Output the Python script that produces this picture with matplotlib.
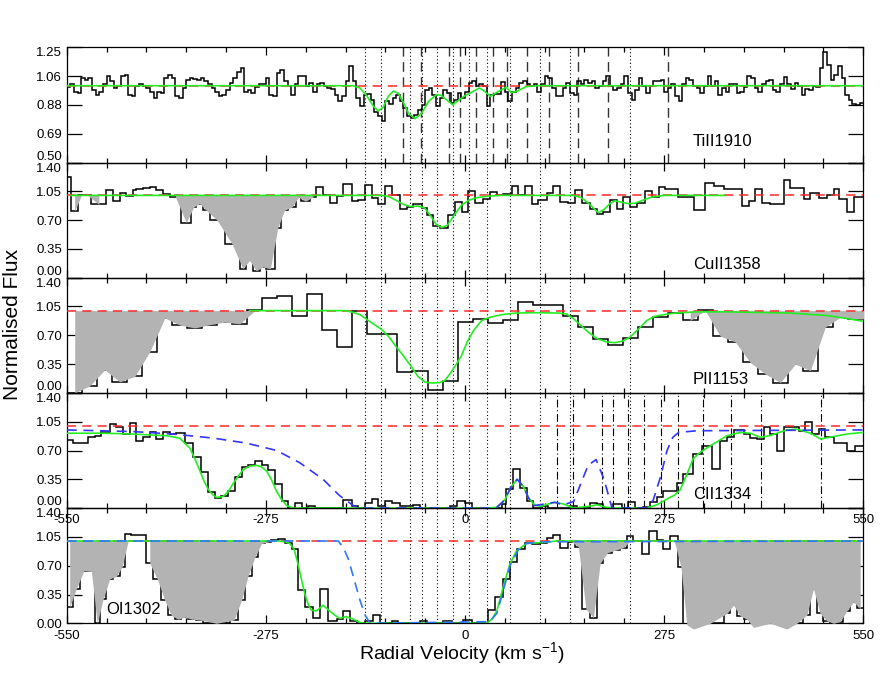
import numpy as np
import matplotlib
matplotlib.use('Agg')
import matplotlib.pyplot as plt
from matplotlib.ticker import FixedLocator, MultipleLocator

plt.rcParams['font.family'] = ['Liberation Sans', 'DejaVu Sans']
plt.rcParams['mathtext.fontset'] = 'custom'
plt.rcParams['mathtext.rm'] = 'Liberation Sans'
plt.rcParams['mathtext.it'] = 'Liberation Sans:italic'
plt.rcParams['mathtext.bf'] = 'Liberation Sans:bold'

# ------------------------------------------------------------------ data
ions = ['TiII1910', 'CuII1358', 'PII1153', 'CII1334', 'OI1302']
xticks = [-550, -275, 0, 275, 550]
xtick_labels = ['-550', '-275', '0', '275', '550']
p1_yticks = [0.50, 0.6875, 0.875, 1.0625, 1.25]
p1_yticklabels = ['0.50', '0.69', '0.88', '1.06', '1.25']
yticks = [0.0, 0.35, 0.70, 1.05, 1.40]
yticklabels = ['0.00', '0.35', '0.70', '1.05', '1.40']

# TiII 1910 (5 km/s bins from -550)
p1_edges = np.arange(-550, 551, 5)
p1_flux = [
    0.99, 1.01, 0.96, 0.95, 1.05, 1.04, 1.05, 0.97, 0.94, 0.96,
    1.01, 1.06, 1.03, 0.985, 0.995, 1.06, 1.07, 0.94, 0.93, 0.995,
    1.01, 0.995, 0.985, 0.96, 0.92, 0.96, 0.95, 1.05, 1.07, 1.05,
    0.93, 0.92, 0.985, 1.04, 1.05, 1.045, 1.04, 1.05, 1.03, 1.01,
    0.985, 0.96, 0.93, 0.94, 0.97, 1.02, 1.05, 1.09, 1.115, 0.96,
    0.97, 0.95, 0.99, 1.01, 1.01, 1.05, 0.94, 0.93, 1.08, 1.10,
    1.03, 0.995, 0.94, 1.01, 1.065, 1.06, 0.995, 1.02, 0.96, 1.01,
    1.02, 0.995, 0.985, 0.98, 0.94, 0.90, 0.93, 1.03, 1.125, 1.03,
    0.92, 0.865, 0.94, 0.945, 0.91, 0.83, 0.80, 0.77, 0.90, 0.88,
    0.92, 0.94, 0.90, 0.855, 0.80, 0.79, 0.81, 0.845, 0.875, 0.975,
    0.985, 0.94, 0.865, 0.92, 0.975, 0.95, 0.89, 0.91, 0.95, 0.92,
    0.96, 1.02, 1.03, 0.995, 1.01, 0.995, 0.865, 0.94, 0.945, 0.945,
    1.025, 0.96, 0.90, 0.96, 0.985, 1.02, 1.03, 1.01, 0.995, 1.01,
    0.96, 1.01, 1.06, 1.05, 0.985, 0.93, 0.93, 0.985, 1.02, 0.95,
    0.94, 1.03, 1.01, 1.04, 1.02, 1.03, 0.985, 0.995, 1.03, 1.06,
    0.995, 0.975, 0.985, 1.01, 1.065, 0.95, 0.91, 0.975, 1.05, 0.995,
    0.95, 1.00, 1.03, 1.03, 1.04, 0.96, 0.985, 1.01, 0.93, 0.90,
    1.01, 1.05, 1.04, 0.995, 0.985, 0.95, 0.995, 1.065, 0.995, 1.03,
    0.94, 0.985, 0.96, 1.01, 1.01, 0.95, 0.96, 0.99, 1.06, 1.05,
    0.985, 0.96, 1.01, 1.03, 1.04, 0.975, 0.96, 1.01, 1.055, 1.01,
    0.98, 1.02, 0.995, 0.94, 0.98, 0.975, 0.995, 0.99, 1.115, 1.22,
    1.135, 1.04, 1.07, 1.13, 1.05, 0.94, 0.91, 0.88, 0.875, 0.89]
p1_model_v = [-550, -155, -145, -135, -127, -120, -113, -106, -99, -92, -85, -78,
              -69, -60, -50, -40, -34, -26, -17, -9, 0, 10, 20, 28, 35, 45, 57,
              64, 72, 85, 100, 550]
p1_model_f = [1.0, 1.0, 0.985, 0.93, 0.87, 0.835, 0.86, 0.93, 0.965, 0.95, 0.89,
              0.82, 0.785, 0.82, 0.90, 0.94, 0.94, 0.91, 0.876, 0.905, 0.935, 0.96,
              0.985, 0.96, 0.93, 0.96, 0.99, 0.955, 0.965, 0.995, 1.0, 1.0]

# CuII 1358
p2_edges = [-550.5, -543.6, -534.4, -525.2, -516.0, -495.3, -486.1, -476.9, -467.7,
            -458.5, -453.9, -444.7, -435.5, -426.3, -417.1, -407.9, -391.8, -378.0,
            -371.1, -361.9, -352.7, -332.0, -311.3, -302.1, -292.9, -283.7, -274.5,
            -263.0, -253.8, -244.6, -233.1, -226.2, -214.7, -205.5, -196.3, -187.1,
            -177.4, -168.2, -156.7, -147.4, -138.2, -129.0, -119.8, -110.6, -101.4,
            -89.9, -80.6, -71.4, -59.9, -53.0, -43.8, -34.6, -23.0, -13.8, -4.6, 4.6,
            13.8, 25.3, 34.5, 43.8, 53.0, 64.5, 73.7, 82.9, 92.1, 101.3, 112.9, 122.1,
            131.3, 142.8, 152.0, 161.2, 172.7, 181.9, 191.2, 200.4, 209.6, 218.8,
            228.0, 237.3, 248.8, 258.0, 267.2, 276.4, 294.8, 315.6, 331.7, 343.2,
            357.0, 382.4, 391.6, 400.8, 410.0, 421.5, 440.0, 449.2, 467.6, 476.8,
            488.3, 499.8, 509.0, 516.0, 527.5, 536.7, 550.5]
p2_flux = [1.22, 0.81, 1.00, 1.01, 0.89, 1.06, 0.93, 1.03, 0.99, 1.06, 1.08, 1.09,
           1.10, 1.06, 1.02, 0.98, 0.67, 0.86, 0.90, 0.82, 0.70, 0.41, 0.11, 0.21,
           0.085, 0.13, 0.11, 0.61, 0.82, 0.86, 0.98, 0.93, 0.98, 1.10, 1.00, 0.91,
           0.99, 1.14, 0.93, 0.94, 1.13, 0.97, 0.90, 1.12, 1.00, 0.84, 0.86, 0.90,
           0.85, 0.76, 0.63, 0.61, 0.76, 0.92, 0.80, 1.05, 0.91, 0.96, 1.04, 1.01,
           1.02, 1.11, 1.01, 1.11, 0.90, 0.95, 1.03, 1.12, 0.92, 0.91, 1.06, 0.91,
           0.84, 0.78, 0.80, 0.94, 0.83, 0.98, 0.86, 0.91, 1.05, 0.98, 1.10, 1.08,
           0.98, 0.82, 1.15, 1.11, 1.08, 0.87, 0.93, 1.08, 0.91, 0.89, 1.19, 1.09,
           0.96, 1.03, 0.97, 1.01, 1.08, 0.96, 0.80, 0.98]
p2_model_v = [-545, -115, -105, -95, -85, -75, -65, -56, -48, -40, -32, -24, -15, -5,
              5, 15, 30, 50, 150, 160, 170, 178, 184, 192, 200, 207, 215, 225, 235,
              245, 258, 275, 358]
p2_model_f = [1.0, 1.0, 0.985, 0.94, 0.89, 0.865, 0.87, 0.85, 0.76, 0.65, 0.61, 0.64,
              0.76, 0.88, 0.94, 0.97, 0.99, 1.0, 1.0, 0.975, 0.91, 0.84, 0.79, 0.83,
              0.90, 0.935, 0.92, 0.90, 0.905, 0.94, 0.98, 1.0, 1.0]
p2_fill = [(-545, -495), (-410, -205)]

# PII 1153 (20.73 km/s bins)
p3_edges = -549.3 + 20.73 * np.arange(55)
p3_flux = [0.00, 0.085, 0.28, 0.135, 0.20, 0.50, 0.91, 0.825, 0.79, 0.83,
           0.86, 0.84, 1.01, 1.15, 1.18, 0.94, 1.20, 0.76, 0.56, 0.99,
           0.71, 0.71, 0.25, 0.27, 0.03, 0.15, 0.86, 0.90, 0.85, 0.89,
           1.10, 1.07, 1.07, 0.94, 0.80, 0.65, 0.585, 0.67, 0.80, 0.92,
           0.97, 0.88, 1.01, 0.69, 0.62, 0.37, 0.23, 0.126, 0.35, 0.27,
           0.80, 0.92, 0.90, 0.90]
p3_model_v = [-297, -165, -155, -145, -135, -125, -115, -105, -95, -85, -75, -65,
              -55, -45, -35, -28, -20, -12, -5, 3, 12, 23, 35, 50, 70, 100, 130, 140,
              150, 160, 170, 182, 195, 207, 218, 228, 240, 251, 262, 274, 290, 320,
              360, 450, 500, 530, 550]
p3_model_f = [1.0, 1.0, 0.98, 0.95, 0.89, 0.83, 0.77, 0.68, 0.56, 0.45, 0.33, 0.20,
              0.13, 0.12, 0.125, 0.15, 0.24, 0.35, 0.45, 0.62, 0.76, 0.88, 0.92, 0.95,
              0.97, 0.975, 0.97, 0.96, 0.90, 0.82, 0.74, 0.66, 0.62, 0.61, 0.63, 0.68,
              0.78, 0.88, 0.93, 0.95, 0.97, 0.985, 0.985, 0.97, 0.94, 0.90, 0.87]
p3_fill = [(-549, -285), (305, 560)]

# CII 1334
p4_edges = [-550.5, -541.3, -520.5, -511.3, -502.1, -490.6, -481.4, -472.2, -463.0,
            -453.7, -444.5, -435.3, -426.1, -416.9, -407.7, -398.5, -387.0, -375.5,
            -363.9, -354.7, -345.5, -336.3, -327.0, -317.8, -308.6, -299.4, -290.2,
            -281.0, -271.8, -262.6, -253.3, -244.1, -234.9, -225.7, -216.5, -207.3,
            -168.1, -156.6, -147.4, -138.2, -129.0, -119.8, -110.6, -101.4, -89.9,
            -80.6, -71.4, -62.2, -20.8, -11.5, 0.0, 9.2, 50.6, 56.6, 66.8, 76.0, 85.2,
            94.4, 106.0, 115.0, 145.1, 154.3, 172.7, 182.0, 191.2, 205.0, 216.5,
            225.7, 234.9, 246.4, 255.6, 264.9, 274.1, 292.5, 301.7, 315.5, 327.1,
            340.9, 352.4, 361.6, 370.8, 384.6, 393.9, 403.1, 412.3, 421.5, 430.7,
            439.9, 451.5, 460.7, 469.9, 479.1, 488.3, 497.5, 509.0, 527.5, 539.0,
            550.5]
p4_flux = [0.83, 0.79, 0.86, 0.88, 0.92, 1.02, 0.99, 0.90, 1.03, 0.82, 0.86, 0.92,
           0.84, 0.92, 0.90, 0.91, 0.79, 0.62, 0.44, 0.19, 0.12, 0.15, 0.21, 0.38,
           0.50, 0.52, 0.57, 0.52, 0.46, 0.29, 0.09, 0.0, 0.06, 0.0, 0.02, 0.0, 0.10,
           0.03, 0.0, 0.06, 0.11, 0.03, 0.09, 0.06, 0.03, 0.02, 0.04, 0.0, 0.03,
           0.085, 0.06, 0.0, 0.05, 0.23, 0.47, 0.25, 0.09, 0.0, 0.03, 0.0, 0.03, 0.0,
           0.06, 0.05, 0.0, 0.05, 0.0, 0.07, 0.0, 0.01, 0.07, 0.13, 0.21, 0.31, 0.42,
           0.66, 0.76, 0.48, 0.82, 0.86, 0.95, 0.90, 0.85, 0.84, 0.98, 0.90, 0.70,
           0.98, 0.99, 0.94, 1.05, 0.90, 0.96, 0.86, 0.79, 0.70, 0.76]
p4_model_v = [-550, -500, -460, -412, -394, -380, -373, -366, -360, -354, -348, -343,
              -334, -327, -320, -313, -306, -297, -288, -281, -274, -267, -260, -253,
              -246, -237, 30, 44, 55, 63, 72, 80, 88, 96, 105, 115, 124, 136, 150, 170,
              182, 195, 205, 250, 265, 275, 283, 290, 297, 306, 315, 325, 343, 362,
              380, 394, 408, 421, 444, 458, 477, 491, 509, 527, 550]
p4_model_f = [0.91, 0.91, 0.90, 0.88, 0.85, 0.73, 0.60, 0.45, 0.32, 0.22, 0.16, 0.13,
              0.14, 0.20, 0.30, 0.39, 0.47, 0.51, 0.52, 0.50, 0.45, 0.34, 0.20, 0.10,
              0.03, 0.0, 0.0, 0.01, 0.10, 0.25, 0.35, 0.27, 0.12, 0.04, 0.02, 0.05,
              0.07, 0.05, 0.0, 0.02, 0.04, 0.01, 0.0, 0.0, 0.04, 0.09, 0.13, 0.16, 0.22,
              0.40, 0.60, 0.68, 0.78, 0.88, 0.92, 0.91, 0.86, 0.88, 0.95, 0.96, 0.91,
              0.84, 0.87, 0.90, 0.92]
p4_blend_v = [-550, -458, -403, -347, -302, -260, -228, -196, -173, -154, -145, 35,
              44, 55, 63, 72, 80, 88, 96, 110, 124, 136, 150, 160, 170, 181, 192, 203,
              251, 260, 270, 279, 287, 295, 320, 550]
p4_blend_f = [0.95, 0.93, 0.90, 0.85, 0.79, 0.70, 0.55, 0.35, 0.15, 0.03, 0.0, 0.0,
              0.01, 0.10, 0.25, 0.35, 0.27, 0.12, 0.03, 0.05, 0.07, 0.04, 0.08, 0.30,
              0.52, 0.59, 0.35, 0.0, 0.0, 0.10, 0.38, 0.70, 0.86, 0.92, 0.94, 0.95]

# OI 1302
p5_edges = [-550.5, -541.3, -532.0, -520.5, -511.3, -504.4, -495.2, -486.0, -476.8,
            -469.8, -460.6, -439.9, -430.7, -419.2, -410.0, -400.8, -391.5, -382.3,
            -370.8, -361.6, -324.8, -313.2, -304.0, -294.8, -285.6, -276.4, -267.2,
            -257.9, -248.7, -239.5, -230.3, -221.1, -209.6, -200.4, -188.9, -177.3,
            -168.1, -158.9, -149.7, -138.2, -126.7, -117.4, -101.3, -92.1, -62.2,
            -53.0, -30.0, -18.5, -2.3, 9.2, 32.2, 41.4, 53.0, 62.2, 71.4, 82.9, 92.1,
            103.6, 112.8, 122.1, 131.3, 142.8, 152.0, 161.2, 172.7, 182.0, 191.2,
            202.7, 214.2, 223.4, 232.6, 244.1, 253.4, 264.9, 274.1, 283.3, 294.8,
            301.7, 311.0, 320.0, 357.0, 366.2, 375.4, 384.6, 393.8, 403.0, 439.8,
            449.0, 467.4, 476.6, 485.8, 495.0, 504.2, 513.4, 522.6, 531.8, 541.0,
            550.5]
p5_flux = [0.195, 0.42, 0.64, 0.63, 0.0, 0.29, 0.54, 0.57, 0.69, 1.09, 1.07, 0.73,
           0.54, 0.28, 0.095, 0.05, 0.075, 0.05, 0.04, 0.0, 0.04, 0.28, 0.58, 0.80,
           0.97, 0.99, 1.01, 1.02, 0.98, 0.90, 0.41, 0.20, 0.07, 0.42, 0.03, 0.05,
           0.155, 0.03, 0.0, 0.03, 0.095, 0.0, 0.025, 0.0, 0.025, 0.0, 0.025, 0.0,
           0.04, 0.0, 0.16, 0.32, 0.54, 0.74, 0.90, 0.97, 0.96, 0.97, 1.04, 1.07,
           0.92, 0.99, 0.93, 0.175, 0.07, 0.73, 0.86, 0.89, 0.92, 1.06, 1.00, 0.84,
           1.12, 1.01, 0.90, 1.06, 0.68, -0.02, -0.07, 0.0, 0.12, 0.22, 0.09, 0.05,
           -0.05, 0.0, -0.07, 0.0, 0.10, 0.42, 0.12, 0.03, 0.0, 0.02, 0.15, 0.26,
           0.18]
p5_model_v = [-550, -258, -248, -242, -236, -230, -225, -221, -216, -212, -205, -196,
              -187, -180, -173, -164, -154, -145, -140, 30, 37, 44, 53, 62, 71, 85,
              104, 127, 550]
p5_model_f = [1.0, 1.0, 0.99, 0.97, 0.90, 0.70, 0.50, 0.35, 0.22, 0.16, 0.15, 0.22,
              0.15, 0.10, 0.06, 0.08, 0.05, 0.01, 0.0, 0.0, 0.05, 0.15, 0.45, 0.72,
              0.88, 0.97, 0.98, 1.0, 1.0]
p5_blend_v = [-550, -175, -168, -161, -154, -145, -138, -131, 34, 44, 53, 62, 74, 85,
              104, 550]
p5_blend_f = [1.0, 1.0, 0.92, 0.78, 0.56, 0.28, 0.10, 0.0, 0.02, 0.12, 0.40, 0.70,
              0.90, 0.97, 0.99, 1.0]
p5_fill = [(-550, -462), (-446, -268), (140, 236), (285, 552)]

# component markers
dotted_vel = [-138, -116, -76, -60, -39, -16, 5, 31, 62, 104, 145, 228]
ti_dashed_vel = [-86, -61, -22, -7, 15, 39, 58, 86, 116, 156, 198, 280]
c_dashdot_vel = [127, 149, 189, 205, 225, 247, 270, 294, 328, 368, 409, 492]

# ------------------------------------------------------------------ styles
GRAY = '#b3b3b3'
GREEN = '#22ee22'
RED = '#ff2a2a'
BLUE4 = '#3535ff'
BLUE5 = '#2f78ff'

W, H = 884, 673
left_px, right_px = 66.7, 863.3
top_px, panel_h = 47.3, 115.2

fig = plt.figure(figsize=(W / 100, H / 100), dpi=100)
axes = []
for i in range(5):
    top = top_px + i * panel_h
    ax = fig.add_axes([left_px / W, 1 - (top + panel_h) / H,
                       (right_px - left_px) / W, panel_h / H])
    ax.set_facecolor('none')
    axes.append(ax)

panels = [
    dict(edges=p1_edges, flux=p1_flux, mv=p1_model_v, mf=p1_model_f, fill=[],
         bv=None, bf=None, bcol=None),
    dict(edges=p2_edges, flux=p2_flux, mv=p2_model_v, mf=p2_model_f, fill=p2_fill,
         bv=None, bf=None, bcol=None),
    dict(edges=p3_edges, flux=p3_flux, mv=p3_model_v, mf=p3_model_f, fill=p3_fill,
         bv=None, bf=None, bcol=None),
    dict(edges=p4_edges, flux=p4_flux, mv=p4_model_v, mf=p4_model_f, fill=[],
         bv=p4_blend_v, bf=p4_blend_f, bcol=BLUE4),
    dict(edges=p5_edges, flux=p5_flux, mv=p5_model_v, mf=p5_model_f, fill=p5_fill,
         bv=p5_blend_v, bf=p5_blend_f, bcol=BLUE5),
]
label_y = [0.178, 0.116, 0.118, 0.12, 0.117]
label_x = [0.786, 0.786, 0.786, 0.786, 0.05]

for i, (ax, p) in enumerate(zip(axes, panels)):
    edges = np.asarray(p['edges'], dtype=float)
    flux = np.asarray(p['flux'], dtype=float)
    centers = 0.5 * (edges[:-1] + edges[1:])

    ax.stairs(flux, edges, baseline=None, color='black', lw=1.1, zorder=2)
    for (a, b) in p['fill']:
        m = (centers >= a) & (centers <= b)
        ax.fill_between(centers[m], np.minimum(flux[m], 1.0), 1.0, color=GRAY,
                        lw=0, zorder=3, clip_on=(i != 4))
    ax.axhline(1.0, color=RED, lw=1.1, dashes=(6, 4), zorder=4)
    ax.plot(p['mv'], p['mf'], color=GREEN, lw=1.2, zorder=5)
    if p['bv'] is not None:
        ax.plot(p['bv'], p['bf'], color=p['bcol'], lw=1.2, dashes=(6, 4), zorder=6)

    for v in dotted_vel:
        ax.axvline(v, color='black', lw=0.8, dashes=(1, 2.2), zorder=1)
    if i == 0:
        for v in ti_dashed_vel:
            ax.axvline(v, color='#333333', lw=1.0, dashes=(7, 4), zorder=1)
    if i == 3:
        for v in c_dashdot_vel:
            ax.axvline(v, color='black', lw=0.8, dashes=(7, 2.5, 1, 2.5), zorder=1)

    ax.set_xlim(-550, 550)
    if i == 0:
        ax.set_ylim(0.50, 1.25)
        ax.set_yticks(p1_yticks)
        ax.set_yticklabels(p1_yticklabels)
    else:
        ax.set_ylim(0.0, 1.40)
        ax.set_yticks(yticks)
        ax.set_yticklabels(yticklabels)
    ax.xaxis.set_major_locator(FixedLocator(xticks))
    ax.xaxis.set_minor_locator(MultipleLocator(55))
    if i >= 3:
        ax.set_xticklabels(xtick_labels)
    else:
        ax.set_xticklabels([])

    ax.tick_params(axis='x', which='major', direction='in', top=True, bottom=True,
                   length=6, width=0.9, labelsize=9.5, pad=4.5)
    ax.tick_params(axis='x', which='minor', direction='in', top=True, bottom=True,
                   length=3.3, width=0.9)
    ax.tick_params(axis='y', which='major', direction='in', left=True, right=True,
                   length=11, width=0.9, labelsize=9.5, pad=3.5)
    for s in ax.spines.values():
        s.set_linewidth(0.9)

    ylabs = ax.get_yticklabels()
    if i < 4:
        ylabs[0].set_verticalalignment('bottom')
    ylabs[-1].set_verticalalignment('top')

    ax.text(label_x[i], label_y[i], ions[i], transform=ax.transAxes, fontsize=12,
            ha='left', va='center', zorder=7)

fig.text(462 / W, 1 - 653 / H, 'Radial Velocity (km s$^{-1}$)', ha='center',
         va='center', fontsize=14)
fig.text(13 / W, 1 - 324 / H, 'Normalised Flux', ha='center', va='center',
         rotation=90, fontsize=15)

fig.savefig('out.png', dpi=100)
